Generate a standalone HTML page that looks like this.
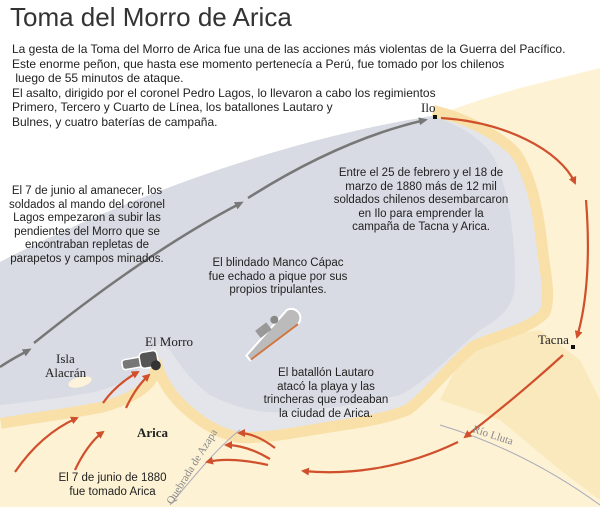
<!DOCTYPE html>
<html><head><meta charset="utf-8"><style>
body{margin:0;width:600px;height:507px;overflow:hidden;background:#fff;font-family:"Liberation Sans",sans-serif}
svg{position:absolute;left:0;top:0}
.t{position:absolute;font-size:11.5px;color:#222;line-height:13.5px}
.c{text-align:center}
</style></head><body>
<svg width="600" height="507" viewBox="0 0 600 507">
<defs>
<marker id="ar" markerWidth="8" markerHeight="8" refX="6" refY="4" orient="auto" markerUnits="userSpaceOnUse"><path d="M0,0 L8,4 L0,8 Z" fill="#d0502c"/></marker>
<marker id="ag" markerWidth="9" markerHeight="8" refX="6" refY="4" orient="auto" markerUnits="userSpaceOnUse"><path d="M0,0 L9,4 L0,8 Z" fill="#777"/></marker>
</defs>
<!-- land -->
<path d="M0,400 L0,507 L600,507 L600,68 L560,78 L520,88 L480,100 L445,112 L430,118 Z" fill="#fdf2d4"/>
<path d="M470,340 L540,330 L580,360 L600,400 L600,500 L560,470 L500,420 L440,400 Z" fill="#f9e3ae" opacity=".6"/>
<!-- sand band + sea -->
<path d="M432,116 C460,122 495,140 510,155 C525,175 533,210 537,250 C540,275 545,295 540,310 C525,325 495,330 470,342 C445,362 425,390 405,405 C380,415 350,418 320,423 C290,428 262,433 240,432 C220,428 205,418 190,405 C175,392 165,375 162,362 C158,352 152,358 150,370 C145,385 125,395 100,402 C70,408 35,412 0,418" fill="none" stroke="#f8e0a8" stroke-width="22" stroke-linejoin="round"/>
<path d="M0,262 C120,200 280,140 432,116 L445,120 C470,126 495,140 510,155 C525,175 533,210 537,250 C540,275 545,295 540,310 C525,325 495,330 470,342 C445,362 425,390 405,405 C380,415 350,418 320,423 C290,428 262,433 240,432 C220,428 205,418 190,405 C175,392 165,375 162,362 C158,352 152,358 150,370 C145,385 125,395 100,402 C70,408 35,412 0,418 Z" fill="#e3e5eb"/>
<path d="M0,262 C120,200 280,140 432,116 C460,125 485,140 495,160 C510,195 515,240 515,280 C515,305 505,315 480,330 C455,350 430,380 400,395 C360,405 320,410 285,412 C255,414 230,405 210,395 C190,380 180,365 170,350 C162,342 152,342 148,355 C140,375 120,385 95,392 C60,398 30,402 0,405 Z" fill="#d8dbe3"/>
<ellipse cx="80" cy="382" rx="12" ry="5" fill="#fdf3da" transform="rotate(-15 80 382)"/>
<!-- rivers -->
<path d="M170,505 C195,475 220,445 240,430" stroke="#aab" stroke-width="1" fill="none"/>
<path d="M440,425 C490,440 545,465 600,505" stroke="#aab" stroke-width="1" fill="none"/>
<!-- gray arrow -->
<path d="M0,367 C10,360 20,355 29,350" stroke="#777" stroke-width="2.5" fill="none" marker-end="url(#ag)"/>
<path d="M34,343 C100,290 170,240 241,203" stroke="#777" stroke-width="2.5" fill="none" marker-end="url(#ag)"/>
<path d="M248,198 C300,165 360,135 425,120" stroke="#777" stroke-width="2.5" fill="none" marker-end="url(#ag)"/>
<!-- red arrows -->
<g stroke="#d0502c" stroke-width="2.2" fill="none">
<path d="M441,118 C505,122 560,150 575,183" marker-end="url(#ar)"/>
<path d="M586,200 C590,250 588,300 577,337" marker-end="url(#ar)"/>
<path d="M563,355 C530,385 500,410 465,437" marker-end="url(#ar)"/>
<path d="M458,442 C400,470 345,475 303,471" marker-end="url(#ar)"/>
<path d="M275,448 C262,438 250,433 239,433" marker-end="url(#ar)"/>
<path d="M270,459 C255,450 240,445 226,445" marker-end="url(#ar)"/>
<path d="M268,465 C245,460 225,458 207,462" marker-end="url(#ar)"/>
<path d="M15,472 C30,450 50,430 77,418" marker-end="url(#ar)"/>
<path d="M75,470 C82,455 92,440 103,432" marker-end="url(#ar)"/>
<path d="M103,403 C112,390 124,380 138,372" marker-end="url(#ar)"/>
<path d="M126,408 C132,395 140,383 149,375" marker-end="url(#ar)"/>
</g>
<rect x="433" y="115" width="4" height="4" fill="#111"/>
<rect x="571" y="345" width="4" height="4" fill="#111"/>
<!-- cannon -->
<g transform="translate(140,362) rotate(-10)">
<rect x="-18" y="-5" width="20" height="10" rx="3" fill="#777" stroke="#fff" stroke-width="1.5"/>
<rect x="0" y="-9" width="18" height="16" rx="4" fill="#555" stroke="#fff" stroke-width="1.5"/>
<circle cx="15" cy="6" r="5" fill="#333"/>
</g>
<!-- ship -->
<g transform="translate(272,333) rotate(-38)">
<path d="M-34,2 L26,-9 C36,-7 36,7 26,9 L-34,8 Z" fill="#bbb" stroke="#fff" stroke-width="2"/>
<path d="M-33,8 L26,9" stroke="#c74" stroke-width="2"/>
<rect x="-12" y="-12" width="14" height="9" fill="#999"/>
<circle cx="10" cy="-9" r="4" fill="#888"/>
</g>
<!-- serif labels -->
<g font-family="Liberation Serif,serif" font-size="13" fill="#222">
<text x="421" y="112">Ilo</text>
<text x="538" y="344">Tacna</text>
<text x="145" y="346">El Morro</text>
<text x="56" y="363">Isla</text>
<text x="45" y="377">Alacrán</text>
<text x="137" y="437" font-weight="bold">Arica</text>
<text x="0" y="0" font-size="11" fill="#888" transform="translate(172,505) rotate(-58)">Quebrada de Azapa</text>
<text x="0" y="0" font-size="11" fill="#888" transform="translate(472,432) rotate(18)">Río Lluta</text>
</g>
</svg>
<div class="t" style="left:10px;top:2px;font-size:26px;line-height:30px;color:#333">Toma del Morro de Arica</div>
<div class="t" style="left:12px;top:42px;font-size:12px;line-height:14.5px">La gesta de la Toma del Morro de Arica fue una de las acciones más violentas de la Guerra del Pacífico.<br>Este enorme peñon, que hasta ese momento pertenecía a Perú, fue tomado por los chilenos<br>&nbsp;luego de 55 minutos de ataque.<br>El asalto, dirigido por el coronel Pedro Lagos, lo llevaron a cabo los regimientos<br>Primero, Tercero y Cuarto de Línea, los batallones Lautaro y<br>Bulnes, y cuatro baterías de campaña.</div>
<div class="t c" style="left:0px;top:185px;width:174px">El 7 de junio al amanecer, los<br>soldados al mando del coronel<br>Lagos empezaron a subir las<br>pendientes del Morro que se<br>encontraban repletas de<br>parapetos y campos minados.</div>
<div class="t c" style="left:326px;top:167px;width:190px">Entre el 25 de febrero y el 18 de<br>marzo de 1880 más de 12 mil<br>soldados chilenos desembarcaron<br>en Ilo para emprender la<br>campaña de Tacna y Arica.</div>
<div class="t c" style="left:198px;top:257px;width:160px">El blindado Manco Cápac<br>fue echado a pique por sus<br>propios tripulantes.</div>
<div class="t c" style="left:256px;top:367px;width:140px">El batallón Lautaro<br>atacó la playa y las<br>trincheras que rodeaban<br>la ciudad de Arica.</div>
<div class="t c" style="left:50px;top:472px;width:125px">El 7 de junio de 1880<br>fue tomado Arica</div>
</body></html>
